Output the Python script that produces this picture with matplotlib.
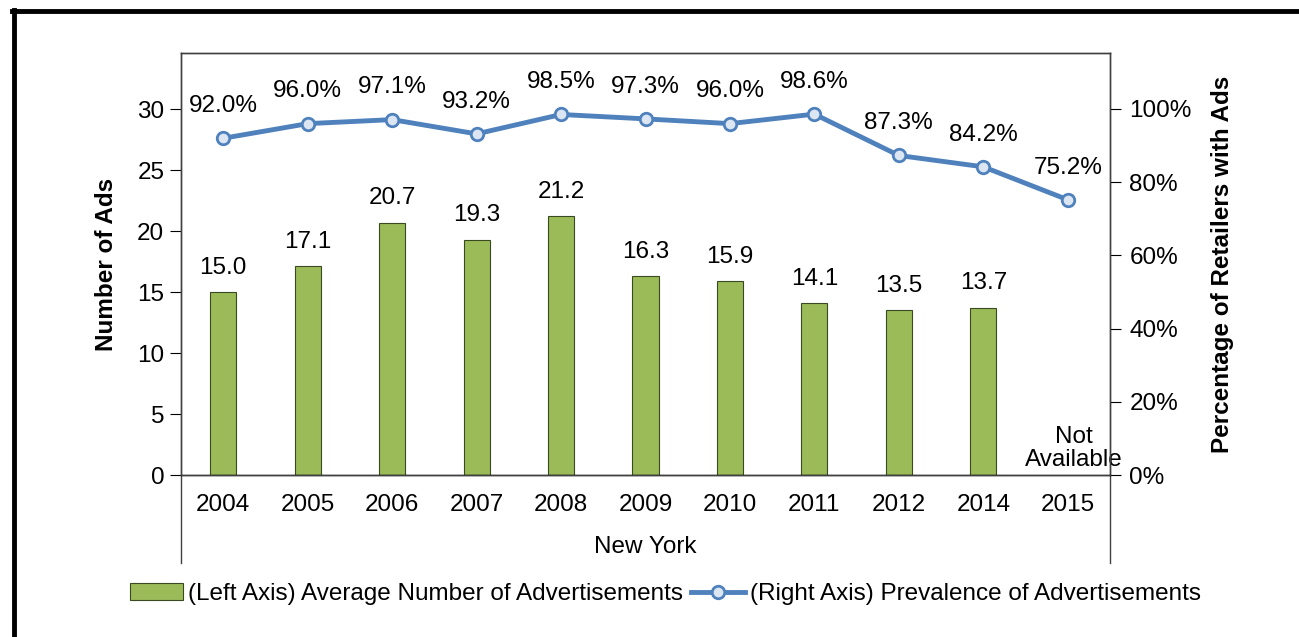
import matplotlib.pyplot as plt
from matplotlib.lines import Line2D
import numpy as np

plt.rcParams['font.family'] = ['Liberation Sans', 'DejaVu Sans']

# data
years = ['2004', '2005', '2006', '2007', '2008', '2009', '2010', '2011', '2012', '2014', '2015']
avg_ads = [15.0, 17.1, 20.7, 19.3, 21.2, 16.3, 15.9, 14.1, 13.5, 13.7, np.nan]
prevalence = [92.0, 96.0, 97.1, 93.2, 98.5, 97.3, 96.0, 98.6, 87.3, 84.2, 75.2]
group_label = 'New York'

green = '#9bbb59'
blue = '#4f81bd'
fs = 17.5

fig = plt.figure(figsize=(12.99, 6.37), dpi=100)
ax = fig.add_axes([181/1299, 1 - 475/637, (1110 - 181)/1299, (475 - 53)/637])
ax2 = ax.twinx()

x = np.arange(len(years))
bars = ax.bar(x, avg_ads, width=0.31, color=green, edgecolor='#3a4a20', linewidth=0.8,
              label='(Left Axis) Average Number of Advertisements', zorder=2)
for xi, v in zip(x, avg_ads):
    if not np.isnan(v):
        ax.text(xi, v + 1.1, f'{v:.1f}', ha='center', va='bottom', fontsize=fs)
ax.text(x[-1] + 0.07, 0.3, 'Not\nAvailable', ha='center', va='bottom', fontsize=fs,
        linespacing=1.1)

ax.set_xlim(-0.5, len(years) - 0.5)
ax.set_ylim(0, 34.6)
ax.set_yticks(range(0, 31, 5))
ax.set_xticks(x)
ax.set_xticklabels(years)
ax.tick_params(axis='x', length=0, pad=14, labelsize=fs)
ax.tick_params(axis='y', direction='out', length=8, labelsize=fs, pad=4)
ax.set_ylabel('Number of Ads', fontsize=fs, fontweight='bold', labelpad=14)

line, = ax2.plot(x, np.array(prevalence) / 100, color=blue, linewidth=3.5, marker='o',
                 markersize=9, markerfacecolor='#dce6f2', markeredgecolor=blue,
                 markeredgewidth=2, label='(Right Axis) Prevalence of Advertisements', zorder=3)
for xi, v in zip(x, prevalence):
    ax2.text(xi, v / 100 + 0.058, f'{v:.1f}%', ha='center', va='bottom', fontsize=fs)
ax2.set_ylim(0, 1.153)
ax2.set_yticks(np.arange(0, 1.01, 0.2))
ax2.set_yticklabels([f'{int(round(t * 100))}%' for t in np.arange(0, 1.01, 0.2)])
ax2.tick_params(axis='y', direction='out', length=8, labelsize=fs, pad=6)
ax2.set_ylabel('Percentage of Retailers with Ads', fontsize=fs, fontweight='bold', labelpad=14)

for a in (ax, ax2):
    for s in a.spines.values():
        s.set_color('#404040')
        s.set_linewidth(1)
ax.spines['bottom'].set_color('black')

# extend the frame below for the grouped category axis
ext = -(563 - 475) / (475 - 53)
for xa in (0, 1):
    ax.add_line(Line2D([xa, xa], [0, ext], transform=ax.transAxes, color='#404040',
                       linewidth=1, clip_on=False))
ax.text(0.5, -(547 - 475) / (475 - 53), group_label, transform=ax.transAxes,
        ha='center', va='center', fontsize=fs)

# legend
fig.legend(handles=[bars, line], loc='center', bbox_to_anchor=(0.512, 1 - 594/637),
           ncol=2, frameon=False, fontsize=fs, handlelength=2.2, handletextpad=0.2,
           columnspacing=0.35)

# outer border (top and left)
fig.add_artist(Line2D([14/1299, 14/1299], [0, 1 - 10/637], color='black', linewidth=3.5))
fig.add_artist(Line2D([12/1299, 1], [1 - 11/637, 1 - 11/637], color='black', linewidth=3.5))

fig.savefig('out.png', dpi=100)
